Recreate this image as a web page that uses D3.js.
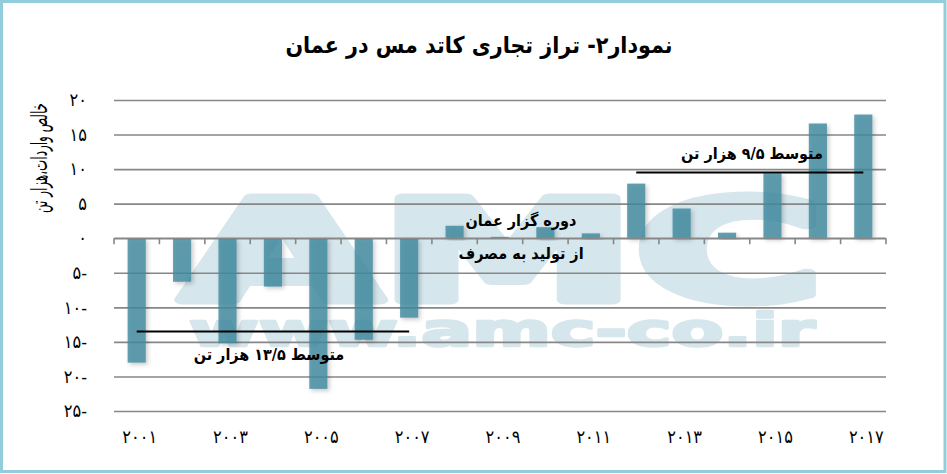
<!DOCTYPE html>
<html>
<head>
<meta charset="utf-8">
<script src="https://cdn.jsdelivr.net/npm/d3@7"></script>
<style>
  body { margin: 0; background: #fff; }
  svg text { font-family: "DejaVu Sans Condensed", "DejaVu Sans", sans-serif; }
</style>
</head>
<body>
<div class="canvas"></div>
<script>
// data
const years = [2001, 2002, 2003, 2004, 2005, 2006, 2007, 2008, 2009,
  2010, 2011, 2012, 2013, 2014, 2015, 2016, 2017];
const balance = [-18.0, -6.3, -15.2, -7.0, -21.8, -14.7, -11.5, 1.8, 0.2,
  1.6, 0.7, 7.9, 4.3, 0.8, 9.4, 16.6, 17.9];
const yTicks = [-25, -20, -15, -10, -5, 0, 5, 10, 15, 20];
const xTickYears = [2001, 2003, 2005, 2007, 2009, 2011, 2013, 2015, 2017];

// averages drawn as black lines
const avgFrom = [2001, 2012];
const avgTo = [2007, 2017];
const avgValue = [-13.5, 9.5];
const avgLabel = ['متوسط ۱۳/۵ هزار تن', 'متوسط ۹/۵ هزار تن'];

const title = 'نمودار۲- تراز تجاری کاتد مس در عمان';
const yTitle = 'خالص واردات،هزار تن';
const note = ['دوره گزار عمان', 'از تولید به مصرف'];

const faDigits = n => String(n).replace(/\d/g, d => '۰۱۲۳۴۵۶۷۸۹'[d]);

const svg = d3.select('.canvas')
  .append('svg')
  .attr('width', 947)
  .attr('height', 474);

// frame
svg.append('rect')
  .attr('x', 1.5).attr('y', 1.5)
  .attr('width', 943.5).attr('height', 470)
  .attr('fill', '#fff')
  .attr('stroke', '#92cddc')
  .attr('stroke-width', 3);

const defs = svg.append('defs');
defs.append('filter').attr('id', 'shadow')
  .attr('x', '-30%').attr('y', '-10%').attr('width', '170%').attr('height', '130%')
  .append('feDropShadow')
  .attr('dx', 2).attr('dy', 2).attr('stdDeviation', 2)
  .attr('flood-color', '#000').attr('flood-opacity', 0.25);

// plot area
const plotLeft = 114, plotRight = 886, plotTop = 100, plotBottom = 411;

const x = d3.scaleBand()
  .domain(years)
  .range([plotLeft, plotRight])
  .paddingInner(0.6)
  .paddingOuter(0.3);

const y = d3.scaleLinear()
  .domain([-25, 20])
  .range([plotBottom, plotTop]);

// watermark
const wm = svg.append('g')
  .attr('fill', '#d5e6ec')
  .attr('stroke', '#d5e6ec')
  .attr('stroke-linejoin', 'round')
  .style('font-family', '"Liberation Sans", Arial, sans-serif')
  .style('font-weight', 'bold');
wm.append('text')
  .attr('x', 182).attr('y', 300)
  .attr('font-size', 140)
  .attr('stroke-width', 9)
  .attr('textLength', 641)
  .attr('lengthAdjust', 'spacingAndGlyphs')
  .text('AMC');
wm.append('text')
  .attr('x', 189).attr('y', 346)
  .attr('font-size', 46)
  .attr('stroke-width', 2.5)
  .attr('textLength', 626)
  .attr('lengthAdjust', 'spacingAndGlyphs')
  .text('www.amc-co.ir');

// y grid + labels
const yAxis = d3.axisLeft(y)
  .tickValues(yTicks)
  .tickSize(-(plotRight - plotLeft))
  .tickPadding(27)
  .tickFormat(d => faDigits(Math.abs(d)) + (d < 0 ? '-' : ''));

const yAxisGroup = svg.append('g')
  .attr('transform', `translate(${plotLeft}, 0)`)
  .call(yAxis);
yAxisGroup.select('.domain').remove();
yAxisGroup.selectAll('line')
  .attr('stroke', '#878787')
  .attr('stroke-width', 1.6);
yAxisGroup.selectAll('text')
  .attr('font-size', 18)
  .attr('fill', '#000')
  .attr('direction', 'ltr');

// bars
svg.append('g')
  .selectAll('rect')
  .data(years)
  .enter()
  .append('rect')
  .attr('x', d => x(d))
  .attr('width', x.bandwidth())
  .attr('y', (d, i) => y(Math.max(0, balance[i])))
  .attr('height', (d, i) => Math.abs(y(balance[i]) - y(0)))
  .attr('fill', '#3f8aa0')
  .attr('fill-opacity', 0.82)
  .attr('filter', 'url(#shadow)');

// zero axis with ticks between categories
const zero = svg.append('g');
zero.append('line')
  .attr('x1', plotLeft).attr('x2', plotRight)
  .attr('y1', y(0)).attr('y2', y(0))
  .attr('stroke', '#878787').attr('stroke-width', 1.6);
zero.selectAll('.tk')
  .data(d3.range(years.length + 1))
  .enter()
  .append('line')
  .attr('class', 'tk')
  .attr('x1', i => plotLeft + i * x.step())
  .attr('x2', i => plotLeft + i * x.step())
  .attr('y1', y(0)).attr('y2', y(0) + 6)
  .attr('stroke', '#878787').attr('stroke-width', 1.6);

// x labels
const xAxis = d3.axisBottom(x)
  .tickValues(xTickYears)
  .tickSize(0)
  .tickPadding(0)
  .tickFormat(d => faDigits(d));
const xAxisGroup = svg.append('g')
  .attr('transform', `translate(3, ${plotBottom + 26})`)
  .call(xAxis);
xAxisGroup.select('.domain').remove();
xAxisGroup.selectAll('text')
  .attr('font-size', 18)
  .attr('fill', '#000')
  .attr('dy', '0.35em');

// average lines
avgValue.forEach((v, i) => {
  const x1 = x(avgFrom[i]) + x.bandwidth() / 2;
  const x2 = x(avgTo[i]) + x.bandwidth() / 2;
  svg.append('line')
    .attr('x1', x1).attr('x2', x2)
    .attr('y1', y(v)).attr('y2', y(v))
    .attr('stroke', '#000').attr('stroke-width', 2);
});
svg.append('text')
  .attr('x', 269).attr('y', y(avgValue[0]) + 28)
  .attr('text-anchor', 'middle')
  .attr('direction', 'rtl')
  .attr('font-size', 16).attr('font-weight', 'bold')
  .text(avgLabel[0]);
svg.append('text')
  .attr('x', 752).attr('y', y(avgValue[1]) - 14)
  .attr('text-anchor', 'middle')
  .attr('direction', 'rtl')
  .attr('font-size', 16).attr('font-weight', 'bold')
  .text(avgLabel[1]);

// note about Oman's transition
svg.append('text')
  .attr('x', 521).attr('y', 226)
  .attr('text-anchor', 'middle')
  .attr('direction', 'rtl')
  .attr('font-size', 16).attr('font-weight', 'bold')
  .text(note[0]);
svg.append('text')
  .attr('x', 521).attr('y', 259)
  .attr('text-anchor', 'middle')
  .attr('direction', 'rtl')
  .attr('font-size', 16).attr('font-weight', 'bold')
  .text(note[1]);

// title
svg.append('text')
  .attr('x', 479).attr('y', 53)
  .attr('text-anchor', 'middle')
  .attr('direction', 'rtl')
  .attr('font-size', 23).attr('font-weight', 'bold')
  .text(title);

// y title
svg.append('text')
  .attr('transform', 'translate(47, 158) rotate(-90)')
  .attr('text-anchor', 'middle')
  .attr('direction', 'rtl')
  .attr('font-size', 23)
  .attr('textLength', 110)
  .attr('lengthAdjust', 'spacingAndGlyphs')
  .text(yTitle);
</script>
</body>
</html>
